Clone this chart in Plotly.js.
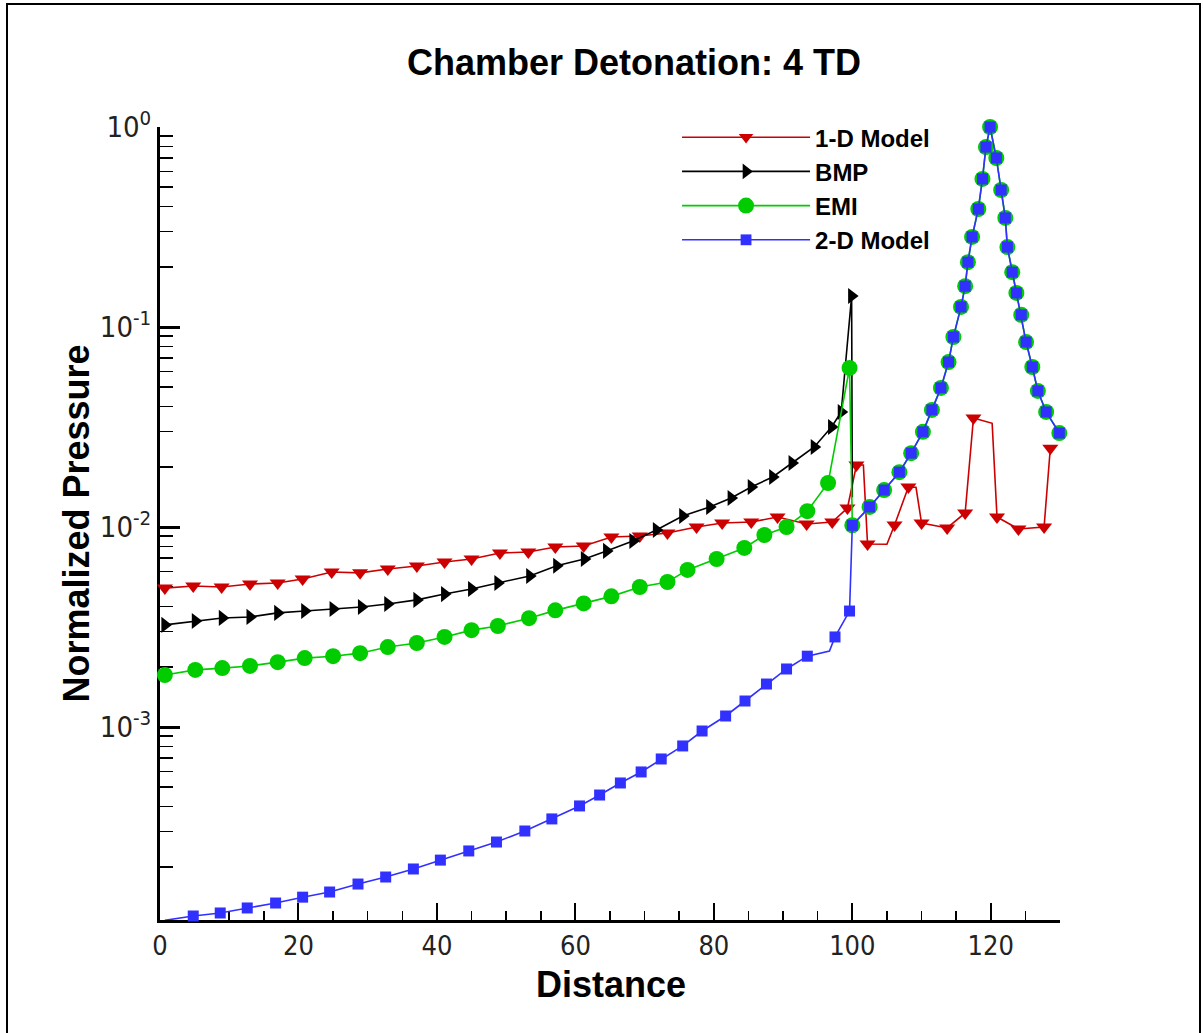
<!DOCTYPE html>
<html>
<head>
<meta charset="utf-8">
<script src="https://cdn.plot.ly/plotly-3.0.1.min.js"></script>
<style>
  html, body { margin: 0; padding: 0; background: #fff; overflow: hidden; }
  #frame { position: absolute; left: 6px; top: 3px; width: 1195px; height: 1040px; border: 2px solid #000; box-sizing: border-box; pointer-events: none; }
  #chart { position: absolute; left: 0; top: 0; width: 1203px; height: 1033px; }
</style>
</head>
<body>
<div id="chart"></div>
<div id="frame"></div>
<script>
// ---- Data ----
// 1-D Model (marker points)
const model1dX = [0.7, 4.8, 8.9, 13.0, 17.0, 20.6, 24.8, 28.9, 32.9, 37.1, 41.1, 45.0, 49.1, 53.2, 57.1, 61.2, 65.2, 69.3, 73.3, 77.5, 81.2, 85.4, 89.2, 93.4, 97.1, 99.3, 100.6, 102.2, 106.1, 108.1, 110.0, 113.7, 116.3, 117.5, 120.9, 124.0, 127.7, 128.6];
const model1dY = [0.00495, 0.00507, 0.00501, 0.00519, 0.00525, 0.00550, 0.00596, 0.00590, 0.00617, 0.00638, 0.00668, 0.00692, 0.00741, 0.00750, 0.00794, 0.00804, 0.00891, 0.00902, 0.00933, 0.01000, 0.01047, 0.01059, 0.01122, 0.01035, 0.01059, 0.01245, 0.02042, 0.00822, 0.01023, 0.01585, 0.01047, 0.00989, 0.01175, 0.03508, 0.01122, 0.00977, 0.01000, 0.02477];
// 1-D Model extra line vertices (no marker)
const model1dLineX = [101.6, 105.0, 109.2, 120.2];
const model1dLineY = [0.0204, 0.0082, 0.0158, 0.0330];

// BMP
const bmpX = [0.7, 5.1, 9.0, 13.0, 17.0, 20.9, 25.0, 29.1, 32.9, 37.1, 41.1, 45.0, 48.8, 53.4, 57.3, 61.3, 64.5, 68.3, 71.7, 75.5, 79.4, 82.5, 85.4, 88.5, 91.3, 94.5, 97.0, 98.4, 99.9];
const bmpY = [0.00324, 0.00339, 0.00351, 0.00355, 0.00372, 0.00380, 0.00389, 0.00398, 0.00412, 0.00432, 0.00462, 0.00490, 0.00525, 0.00569, 0.00640, 0.00692, 0.00759, 0.00851, 0.00966, 0.01135, 0.01259, 0.01396, 0.01585, 0.01778, 0.02089, 0.02512, 0.03162, 0.03758, 0.1429];
const bmpLineX = [100.0];
const bmpLineY = [0.0141];

// EMI
const emiX = [0.7, 5.1, 9.0, 13.0, 17.0, 20.9, 25.0, 28.9, 32.9, 37.1, 41.1, 45.0, 48.8, 53.3, 57.1, 61.2, 65.2, 69.3, 73.3, 76.2, 80.4, 84.4, 87.3, 90.5, 93.5, 96.5, 99.6,
              100.0, 102.5, 104.6, 106.8, 108.5, 110.2, 111.5, 112.8, 113.9, 114.6, 115.7, 116.3, 116.7, 117.3, 118.2, 118.8, 119.3, 119.9, 120.8, 121.5, 122.1, 122.4, 123.1, 123.7, 124.4, 125.1, 126.0, 126.8, 128.0, 129.9];
const emiY = [0.00182, 0.00193, 0.00197, 0.00202, 0.00211, 0.00221, 0.00226, 0.00234, 0.00251, 0.00263, 0.00282, 0.00305, 0.00320, 0.00350, 0.00383, 0.00415, 0.00450, 0.00501, 0.00531, 0.00610, 0.00692, 0.00786, 0.00912, 0.01000, 0.0120, 0.0166, 0.0624,
              0.0102, 0.0126, 0.0153, 0.0188, 0.0234, 0.0299, 0.0385, 0.0496, 0.0668, 0.0891, 0.126, 0.160, 0.211, 0.282, 0.389, 0.550, 0.794, 1.0, 0.70, 0.484, 0.351, 0.251, 0.188, 0.148, 0.115, 0.0841, 0.0631, 0.0479, 0.0376, 0.0295];

// 2-D Model
const model2dX = [0.7, 4.8, 8.7, 12.6, 16.7, 20.6, 24.5, 28.6, 32.6, 36.6, 40.5, 44.6, 48.6, 52.7, 56.6, 60.6, 63.5, 66.5, 69.5, 72.4, 75.5, 78.3, 81.7, 84.5, 87.6, 90.5, 93.5, 97.5, 99.6,
                  100.0, 102.5, 104.6, 106.8, 108.5, 110.2, 111.5, 112.8, 113.9, 114.6, 115.7, 116.3, 116.7, 117.3, 118.2, 118.8, 119.3, 119.9, 120.8, 121.5, 122.1, 122.4, 123.1, 123.7, 124.4, 125.1, 126.0, 126.8, 128.0, 129.9];
const model2dY = [1.08e-4, 1.135e-4, 1.175e-4, 1.245e-4, 1.318e-4, 1.41e-4, 1.496e-4, 1.64e-4, 1.778e-4, 1.95e-4, 2.16e-4, 2.40e-4, 2.66e-4, 3.02e-4, 3.47e-4, 4.03e-4, 4.57e-4, 5.25e-4, 5.96e-4, 6.92e-4, 8.04e-4, 9.55e-4, 1.135e-3, 1.349e-3, 1.64e-3, 1.95e-3, 2.26e-3, 2.82e-3, 3.80e-3,
                  0.0102, 0.0126, 0.0153, 0.0188, 0.0234, 0.0299, 0.0385, 0.0496, 0.0668, 0.0891, 0.126, 0.160, 0.211, 0.282, 0.389, 0.550, 0.794, 1.0, 0.70, 0.484, 0.351, 0.251, 0.188, 0.148, 0.115, 0.0841, 0.0631, 0.0479, 0.0376, 0.0295];
const model2dLineX = [96.7];
const model2dLineY = [0.0024];

const seriesNames = ['1-D Model', 'BMP', 'EMI', '2-D Model'];
const yTickVals = [0.001, 0.01, 0.1, 1];
const yTickText = ['10<sup>-3</sup>', '10<sup>-2</sup>', '10<sup>-1</sup>', '10<sup>0</sup>'];
const xTickVals = [0, 20, 40, 60, 80, 100, 120];

// ---- Build traces ----
function merge(mx, my, lx, ly, size) {
  const pts = mx.map((x, i) => ({x: x, y: my[i], s: size}))
    .concat(lx.map((x, i) => ({x: x, y: ly[i], s: 0})));
  pts.sort((a, b) => a.x - b.x);
  return {x: pts.map(p => p.x), y: pts.map(p => p.y), s: pts.map(p => p.s)};
}

function trace(name, d, color, symbol) {
  return {
    type: 'scatter', mode: 'lines+markers', name: name,
    x: d.x, y: d.y, cliponaxis: false,
    line: {color: color, width: 1.6},
    marker: {color: color, symbol: symbol, size: d.s, opacity: 1, line: {width: 0}}
  };
}

const red = '#cc0000', black = '#000000', green = '#00cc00', blue = '#3030ff';
const traces = [
  trace(seriesNames[0], merge(model1dX, model1dY, model1dLineX, model1dLineY, 14), red, 'triangle-down'),
  trace(seriesNames[1], merge(bmpX, bmpY, bmpLineX, bmpLineY, 14), black, 'triangle-right'),
  trace(seriesNames[2], merge(emiX, emiY, [], [], 16), green, 'circle'),
  trace(seriesNames[3], merge(model2dX, model2dY, model2dLineX, model2dLineY, 11), blue, 'square')
];

// minor ticks on log axis: 2..9 per decade
const minorVals = [];
for (let e = -4; e <= -1; e++) for (let k = 2; k <= 9; k++) minorVals.push(k * Math.pow(10, e));

const tickFamily = 'Liberation Sans Narrow, DejaVu Sans Condensed, Arial Narrow, sans-serif';
const boldFont = (s) => ({family: 'Liberation Sans, Arial, sans-serif', size: s, color: '#000', weight: 'bold'});

const layout = {
  width: 1203, height: 1033,
  margin: {l: 160, r: 143, t: 127, b: 113},
  paper_bgcolor: '#fff', plot_bgcolor: '#fff',
  showlegend: true,
  title: {text: 'Chamber Detonation: 4 TD', font: boldFont(36), x: 0.527, xanchor: 'center', y: 0.94, yanchor: 'middle'},
  xaxis: {
    range: [0, 130], showgrid: false, zeroline: false, layer: 'below traces',
    showline: true, linecolor: '#000', linewidth: 3,
    tickmode: 'array', tickvals: xTickVals,
    ticks: 'inside', ticklen: 17, tickwidth: 2, tickcolor: '#000',
    tickfont: {family: tickFamily, size: 27, color: '#222'},
    minor: {dtick: 5, tick0: 0, ticks: 'inside', ticklen: 9, tickwidth: 1.5, tickcolor: '#000', showgrid: false}
  },
  yaxis: {
    type: 'log', range: [-3.965, 0], showgrid: false, zeroline: false, layer: 'below traces',
    showline: true, linecolor: '#000', linewidth: 3,
    tickmode: 'array', tickvals: yTickVals, ticktext: yTickText,
    ticks: 'inside', ticklen: 20, tickwidth: 3, tickcolor: '#000',
    tickfont: {family: tickFamily, size: 29, color: '#222'},
    minor: {tickmode: 'array', tickvals: minorVals, ticks: 'inside', ticklen: 13, tickwidth: 1.5, tickcolor: '#000', showgrid: false},
    title: {text: 'Normalized Pressure', font: boldFont(36), standoff: 0}
  },
  annotations: [{
    text: 'Distance', xref: 'paper', yref: 'paper', x: 0.501, y: -0.081,
    xanchor: 'center', yanchor: 'middle', showarrow: false, borderpad: 0, font: boldFont(36)
  }],
  legend: {
    x: 0.5745, y: 1.015, xanchor: 'left', yanchor: 'top',
    bgcolor: 'rgba(0,0,0,0)', borderwidth: 0,
    font: boldFont(24), itemwidth: 128,
    tracegroupgap: 0
  }
};

Plotly.newPlot('chart', traces, layout, {displayModeBar: false, staticPlot: true});
</script>
</body>
</html>
